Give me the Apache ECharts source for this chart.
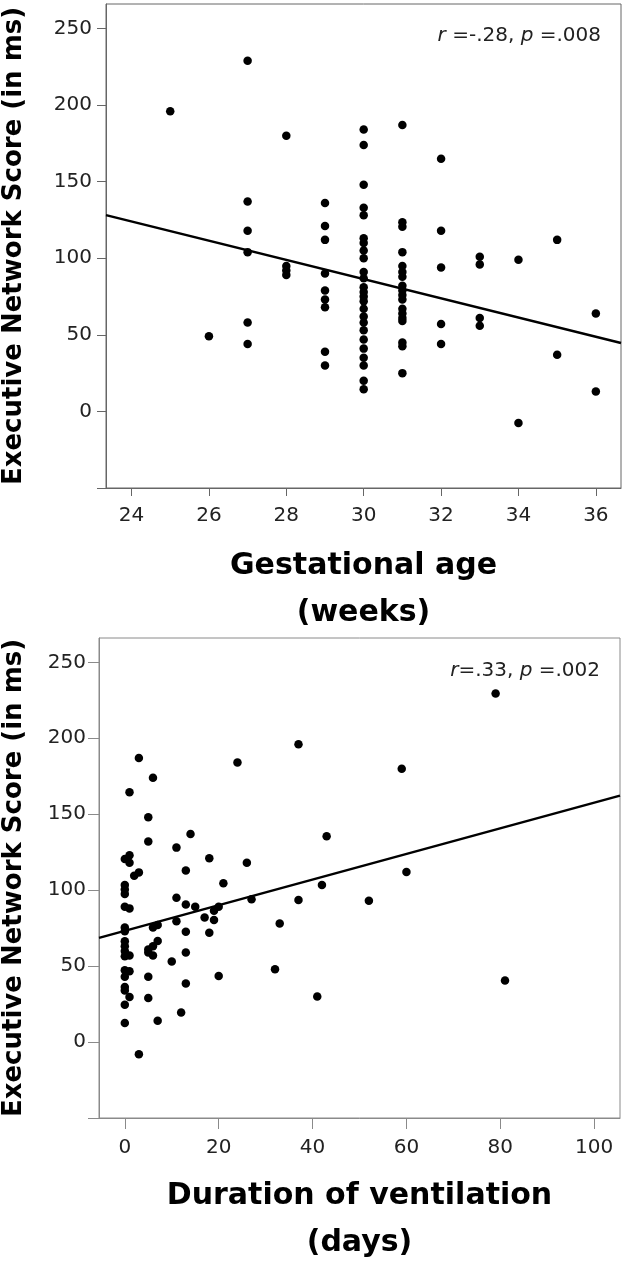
<!DOCTYPE html>
<html>
<head>
<meta charset="utf-8">
<script src="https://cdn.jsdelivr.net/npm/echarts@6/dist/echarts.min.js"></script>
<style>
html,body{margin:0;padding:0;background:#fff;}
#chart{width:625px;height:1267px;}
</style>
</head>
<body>
<div id="chart"></div>
<script>
// ---- Data: top panel (gestational age in weeks vs score) ----
const gaWeeks = [
  25,
  26,
  27,27,27,27,27,27,
  28,28,28,28,
  29,29,29,29,29,29,29,29,29,
  30,30,30,30,30,30,30,30,30,30,30,30,30,30,30,30,30,30,30,30,30,30,30,30,30,
  31,31,31,31,31,31,31,31,31,31,31,31,31,31,31,31,31,31,
  32,32,32,32,32,
  33,33,33,33,
  34,34,
  35,35,
  36,36
];
const gaScores = [
  196,
  49,
  229,137,118,104,58,44,
  180,95,92,89,
  136,121,112,90,79,73,68,39,30,
  184,174,148,133,128,113,110,105,100,91,87,81,78,75,72,67,62,58,53,47,41,35,30,20,14.5,
  187,123.5,120.5,104,95,91,88,82,79,76,73,67,64,61,59,45,42.5,25,
  165,118,94,57,44,
  101,96,61,56,
  99,-7.5,
  112,37,
  64,13
];
const gaFit = [274.5, -6.27];           // intercept, slope
const gaTicks = [24, 26, 28, 30, 32, 34, 36];

// ---- Data: bottom panel (duration of ventilation in days vs score) ----
const ventDays = [
  0,0,0,0,0,0,0,0,0,0,0,0,0,0,0,0,0,
  1,1,1,1,1,1,1,
  2,
  3,3,3,
  5,5,5,5,5,5,
  6,6,6,6,
  7,7,7,
  10,
  11,11,11,
  12,
  13,13,13,13,13,
  14,15,17,
  18,18,
  19,19,
  20,20,
  21,24,26,27,32,33,
  37,37,
  41,42,43,52,59,60,79,81
];
const ventScores = [
  120.5,103.4,100.5,97.4,89,75.4,73,66.4,63,60,56.5,47.3,43,36.3,34,24.6,12.5,
  164.5,123,118,88,57,46.6,29.7,
  109.5,
  187,111.7,-8,
  148,132,61,59,43,29,
  174,75.4,63,57,
  77,66.6,14,
  53,
  128,95,79.6,
  19.4,
  113,90.5,72.6,59,38.5,
  137,89,82,
  121,72,
  86.4,80.3,
  89,43.5,
  104.5,184,118,94,48,78,
  93.5,196,
  30,103.4,135.5,93,180,112,229.4,40.5
];
const ventFit = [73.2, 0.844];          // intercept, slope
const ventTicks = [0, 20, 40, 60, 80, 100];

// ---- Shared y-axis ticks ----
const scoreTicks = [-50, 0, 50, 100, 150, 200, 250];
const scoreLabels = [0, 50, 100, 150, 200, 250];

const topRange = [23.34, 36.65];
const botRange = [-5.5, 105.5];
const yRange = [-50, 266];

function pairs(xs, ys) { return xs.map((x, i) => [x, ys[i]]); }
function fitLine(fit, range) {
  return [[range[0], fit[0] + fit[1] * range[0]], [range[1], fit[0] + fit[1] * range[1]]];
}

const FONT = 'DejaVu Sans';
function xAxisCfg(idx, range, ticks, name, color, tickLen, margin) {
  return {
    type: 'value', gridIndex: idx, min: range[0], max: range[1],
    splitLine: { show: false },
    axisLine: { show: true, onZero: false, lineStyle: { color: color, width: 1 } },
    axisTick: { show: true, inside: false, length: tickLen, customValues: ticks, lineStyle: { color: color } },
    axisLabel: { customValues: ticks, color: '#222', fontFamily: FONT, fontSize: 20, margin: margin },
    name: name, nameLocation: 'middle', nameGap: 55,
    nameTextStyle: { fontFamily: FONT, fontWeight: 'bold', fontSize: 30, color: '#000', lineHeight: 47, verticalAlign: 'top' }
  };
}
function yAxisCfg(idx, color, tickLen, margin, gap) {
  return {
    type: 'value', gridIndex: idx, min: yRange[0], max: yRange[1],
    splitLine: { show: false },
    axisLine: { show: true, onZero: false, lineStyle: { color: color, width: 1 } },
    axisTick: { show: true, inside: false, length: tickLen, customValues: scoreTicks, lineStyle: { color: color } },
    axisLabel: { customValues: scoreLabels, color: '#222', fontFamily: FONT, fontSize: 20, margin: margin },
    name: 'Executive Network Score (in ms)', nameLocation: 'middle', nameGap: gap,
    nameTextStyle: { fontFamily: FONT, fontWeight: 'bold', fontSize: 26, color: '#000' }
  };
}

const chart = echarts.init(document.getElementById('chart'), null, { renderer: 'canvas' });
chart.setOption({
  animation: false,
  backgroundColor: '#fff',
  title: [
    { text: '{i|r} =-.28, {i|p} =.008', right: 24, top: 26, padding: 0,
      textStyle: { fontFamily: FONT, fontSize: 20, fontWeight: 'normal', color: '#222',
        rich: { i: { fontFamily: FONT, fontSize: 20, fontStyle: 'italic', color: '#222' } } } },
    { text: '{i|r}=.33, {i|p} =.002', right: 25, top: 661, padding: 0,
      textStyle: { fontFamily: FONT, fontSize: 20, fontWeight: 'normal', color: '#222',
        rich: { i: { fontFamily: FONT, fontSize: 20, fontStyle: 'italic', color: '#222' } } } }
  ],
  grid: [
    { left: 106, top: 4, width: 515, height: 484, show: true, borderColor: '#666', borderWidth: 1,
      backgroundColor: 'transparent', containLabel: false, outerBoundsMode: 'none' },
    { left: 99, top: 638, width: 521, height: 480, show: true, borderColor: '#8a8a8a', borderWidth: 1,
      backgroundColor: 'transparent', containLabel: false, outerBoundsMode: 'none' }
  ],
  xAxis: [
    xAxisCfg(0, topRange, gaTicks, 'Gestational age\n(weeks)', '#666', 8, 18),
    xAxisCfg(1, botRange, ventTicks, 'Duration of ventilation\n(days)', '#8a8a8a', 11, 20)
  ],
  yAxis: [
    yAxisCfg(0, '#666', 9, 14, 79),
    yAxisCfg(1, '#8a8a8a', 11, 13, 72)
  ],
  series: [
    { type: 'scatter', xAxisIndex: 0, yAxisIndex: 0, data: pairs(gaWeeks, gaScores),
      symbol: 'circle', symbolSize: 8.5, itemStyle: { color: '#000', opacity: 1 } },
    { type: 'line', xAxisIndex: 0, yAxisIndex: 0, data: fitLine(gaFit, topRange),
      symbol: 'none', lineStyle: { color: '#000', width: 2.5 }, clip: true },
    { type: 'scatter', xAxisIndex: 1, yAxisIndex: 1, data: pairs(ventDays, ventScores),
      symbol: 'circle', symbolSize: 8.5, itemStyle: { color: '#000', opacity: 1 } },
    { type: 'line', xAxisIndex: 1, yAxisIndex: 1, data: fitLine(ventFit, botRange),
      symbol: 'none', lineStyle: { color: '#000', width: 2.5 }, clip: true }
  ]
});
</script>
</body>
</html>
